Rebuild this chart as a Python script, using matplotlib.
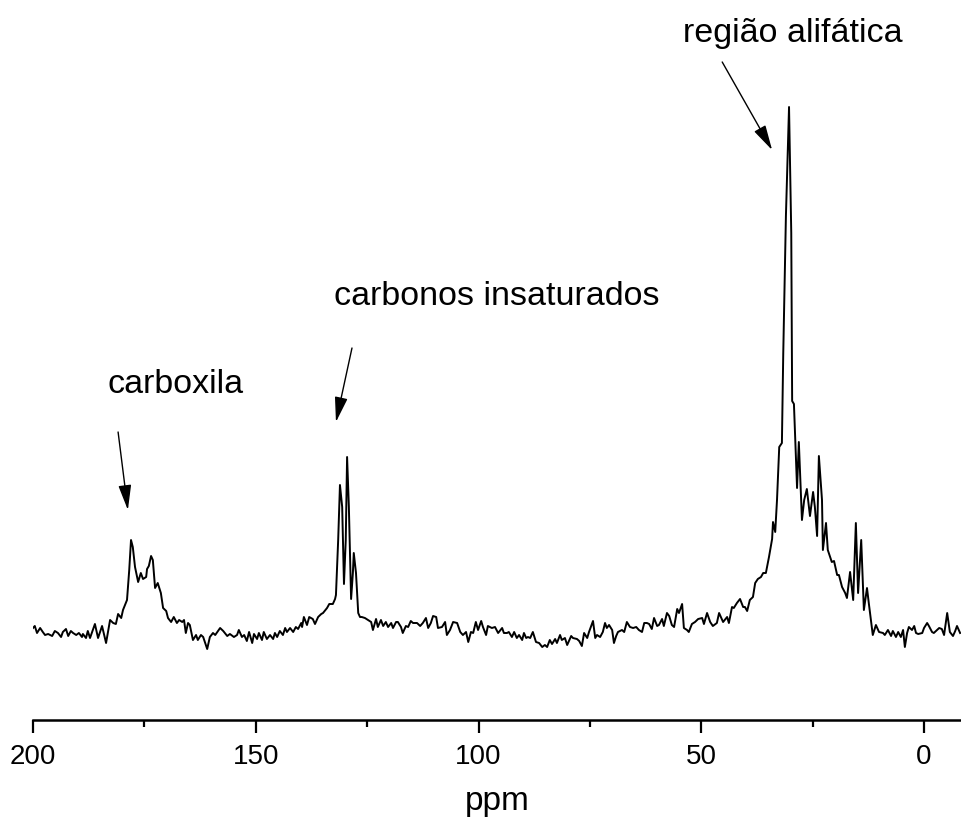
import matplotlib
matplotlib.use("Agg")
import matplotlib.pyplot as plt
from matplotlib.ticker import MultipleLocator

plt.rcParams['font.family'] = ['Liberation Sans', 'DejaVu Sans']

# espectro de RMN 13C: (ppm, intensidade em unidades arbitrárias)
carboxila = [
    (200.0, 2), (199.6, 4), (199.1, -3), (198.4, 2), (197.8, -2), (197.3, -5),
    (196.6, -4), (195.7, -6), (195.1, -1), (194.4, -3), (193.7, -7), (193.3, -2),
    (192.6, 1), (192.1, -6), (191.5, -1), (191.0, -3), (190.3, -5), (189.7, -3),
    (189.0, -7), (188.8, -4), (188.1, -8), (187.7, -1), (187.2, -8), (186.1, 6),
    (185.4, -8), (184.5, 4), (183.6, -13), (182.7, 10), (182.0, 7), (181.4, 6),
    (180.9, 16), (180.2, 12), (179.8, 20), (178.9, 30), (178.4, 60), (178.0, 90),
    (177.6, 83), (177.1, 63), (176.4, 48), (175.8, 57), (175.3, 51), (174.6, 53),
    (174.4, 61), (174.0, 64), (173.5, 74), (173.1, 70), (172.6, 42), (172.0, 47),
    (171.3, 37), (170.8, 22), (170.1, 19), (169.7, 12), (169.0, 8), (168.4, 13),
    (167.7, 7), (167.2, 10), (166.5, 8), (166.1, 10), (165.7, -3), (165.2, 7),
]

base_165_132 = [
    (164.8, 5), (164.1, -10), (163.4, -5), (163.0, -10), (162.3, -5), (161.8, -7),
    (160.9, -19), (160.3, -7), (159.6, -3), (159.1, -5), (158.0, 2), (157.3, -1),
    (156.4, -6), (155.8, -4), (154.9, -7), (154.2, -5), (153.8, 0), (153.1, -7),
    (152.6, -5), (152.0, -11), (151.5, -2), (150.8, -13), (150.4, -4), (149.7, -9),
    (149.3, -3), (148.6, -10), (148.2, -2), (147.5, -9), (146.8, -5), (146.1, -9),
    (145.7, -3), (145.2, -7), (144.6, -1), (143.9, -5), (143.4, 2), (143.0, -2),
    (142.3, 2), (141.6, -2), (141.0, 3), (140.5, 1), (139.8, 7), (139.6, 3),
    (139.2, 13), (138.5, 5), (138.0, 13), (137.2, 11), (136.7, 6), (136.0, 13),
    (135.3, 16), (134.9, 17), (134.0, 22), (133.5, 26), (132.7, 26), (132.2, 31),
    (132.0, 35),
]

insaturados = [
    (131.5, 90), (131.1, 145), (130.6, 123), (130.2, 46), (129.8, 90), (129.5, 173),
    (129.1, 123), (128.6, 31), (128.2, 57), (128.0, 77), (127.5, 57), (127.0, 17),
    (126.6, 13), (126.2, 13),
]

base_126_46 = [
    (125.5, 12), (124.8, 10), (124.1, 8), (123.7, 0), (123.0, 11), (122.6, 3),
    (121.9, 10), (121.4, 4), (120.8, 8), (120.3, 3), (119.6, 7), (119.2, 2),
    (118.5, 8), (118.1, 8), (117.4, 3), (117.0, -3), (116.3, 4), (115.8, 3),
    (115.2, 9), (114.7, 7), (113.8, 7), (113.1, 4), (112.5, 7), (111.8, 12),
    (111.3, 2), (110.7, 7), (110.2, 14), (109.5, 13), (109.1, 2), (108.2, 3),
    (107.5, 8), (107.1, -5), (106.4, 0), (105.7, 8), (104.8, 7), (104.1, -2),
    (103.5, -5), (102.8, -2), (102.3, -12), (101.7, -2), (101.2, -3), (100.6, 8),
    (100.1, 0), (99.4, 9), (99.0, 3), (98.3, -5), (97.9, 4), (97.0, 2),
    (96.3, 3), (95.6, -3), (94.7, 2), (94.3, -3), (93.6, -3), (93.2, -2),
    (92.5, -7), (92.0, -2), (91.4, -8), (90.9, -5), (90.2, -10), (89.8, -3),
    (89.3, -8), (88.9, -7), (88.4, -8), (87.8, -2), (87.1, -12), (86.4, -13),
    (85.7, -17), (85.1, -15), (84.6, -17), (84.0, -10), (83.5, -14), (82.8, -9),
    (82.4, -13), (81.7, -5), (81.3, -10), (80.6, -8), (80.1, -15), (79.2, -6),
    (78.8, -8), (77.9, -9), (77.4, -11), (76.8, -16), (76.3, -3), (75.6, -8),
    (75.2, -2), (74.3, 9), (73.8, -8), (73.4, -5), (72.7, -7), (72.1, -2),
    (71.6, 7), (71.2, 2), (70.7, 5), (70.0, 0), (69.6, -13), (69.1, -6),
    (68.7, -2), (67.8, 0), (67.3, -2), (66.7, 8), (66.0, 3), (65.3, 2),
    (64.6, 3), (64.0, 0), (63.3, -2), (62.8, 7), (62.2, 7), (61.7, 6),
    (61.1, 1), (60.6, 12), (59.9, 4), (59.5, 5), (58.8, 11), (58.4, 4),
    (57.7, 17), (57.2, 14), (56.6, 5), (56.1, 3), (55.4, 21), (55.0, 17),
    (54.3, 26), (53.9, 2), (53.2, 0), (52.8, -2), (52.1, 6), (51.4, 8),
    (50.7, 11), (49.8, 12), (49.4, 6), (48.7, 17), (48.0, 8), (47.4, 4),
    (46.5, 7), (46.0, 17),
]

alifatica = [
    (45.1, 8), (44.2, 13), (43.8, 7), (43.1, 23), (42.7, 22), (42.0, 27),
    (41.3, 31), (40.6, 23), (40.2, 23), (39.7, 19), (39.1, 30), (38.4, 33),
    (37.9, 47), (37.3, 51), (36.6, 53), (36.1, 57), (35.5, 57), (34.8, 73),
    (34.1, 91), (33.9, 108), (33.4, 98), (33.0, 130), (32.5, 183), (31.9, 187),
    (31.6, 276), (31.0, 414), (30.3, 523), (29.8, 397), (29.6, 229), (29.2, 226),
    (28.5, 142), (28.1, 188), (27.4, 110), (26.9, 130), (26.3, 141), (25.6, 114),
    (24.9, 138), (24.5, 123), (24.0, 94), (23.6, 174), (22.9, 130), (22.7, 80),
    (22.0, 107), (21.6, 80), (20.7, 68), (20.2, 69), (19.5, 55), (19.1, 55),
    (18.4, 43), (17.7, 37), (17.3, 32), (16.6, 58), (15.9, 30), (15.3, 107),
    (14.8, 37), (14.1, 90), (13.5, 20), (12.8, 42), (12.4, 27),
]

base_final = [
    (11.5, -5), (10.8, 5), (10.1, -2), (9.2, -3), (8.8, -5), (8.1, 0),
    (7.4, -6), (7.0, -1), (6.3, -7), (5.8, -2), (5.2, -7), (4.7, 0),
    (4.3, -17), (3.8, -3), (3.4, 3), (2.7, 0), (2.2, 4), (1.8, -3),
    (1.3, -4), (0.4, -3), (0.0, 2), (-0.7, 7), (-1.1, 4), (-1.8, -2),
    (-2.2, -3), (-2.9, 0), (-3.4, 2), (-4.0, 1), (-4.5, -5), (-5.2, 17),
    (-5.8, -2), (-6.5, -6), (-7.0, -1), (-7.4, 4), (-8.1, -3),
]

espectro = carboxila + base_165_132 + insaturados + base_126_46 + alifatica + base_final
ppm = [p for p, i in espectro]
intensidade = [i for p, i in espectro]

ticks = [200, 150, 100, 50, 0]

fig = plt.figure(figsize=(9.61, 8.23), dpi=100)
ax = fig.add_axes([33 / 961, 103 / 823, 928 / 961, 720 / 823])

ax.plot(ppm, intensidade, color='black', lw=1.4, solid_joinstyle='round')

ax.set_xlim(200, -8.3)
ax.set_ylim(-90, 630)

for lado in ['left', 'right', 'top']:
    ax.spines[lado].set_visible(False)
ax.spines['bottom'].set_linewidth(1.8)
ax.set_yticks([])
ax.set_xticks(ticks)
ax.set_xticklabels([str(t) for t in ticks])
ax.xaxis.set_minor_locator(MultipleLocator(25))
ax.tick_params(axis='x', which='major', length=9, width=1.6, labelsize=20, pad=8)
ax.tick_params(axis='x', which='minor', length=5, width=1.6)
ax.set_xlabel('ppm', fontsize=24, labelpad=12)

# rótulos das regiões com setas
seta = dict(arrowstyle='-|>,head_length=0.7,head_width=0.18', color='black', lw=1.0,
            mutation_scale=22, shrinkA=0, shrinkB=0)
ax.text(29.4, 588, 'região alifática', fontsize=24.5, ha='center', va='baseline')
ax.annotate('', xy=(34.1, 480), xytext=(45.3, 568), arrowprops=seta)
ax.text(95.8, 325, 'carbonos insaturados', fontsize=24.5, ha='center', va='baseline')
ax.annotate('', xy=(132.0, 208), xytext=(128.4, 282), arrowprops=seta)
ax.text(168.1, 237, 'carboxila', fontsize=24.5, ha='center', va='baseline')
ax.annotate('', xy=(178.7, 120), xytext=(180.9, 198), arrowprops=seta)

fig.savefig('out.png', dpi=100)
